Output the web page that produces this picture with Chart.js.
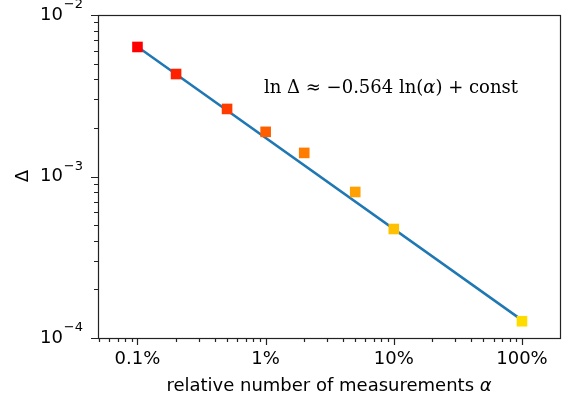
<!DOCTYPE html>
<html><head><meta charset="utf-8">
<script src="https://cdn.jsdelivr.net/npm/chart.js@4"></script>
<style>html,body{margin:0;padding:0;background:#fff}#w{width:571px;height:405px}</style>
</head><body><div id="w"><canvas id="c"></canvas></div>
<script>
const alphaPct = [0.1, 0.2, 0.5, 1, 2, 5, 10, 100];
const delta = [6.34e-3, 4.31e-3, 2.62e-3, 1.89e-3, 1.40e-3, 8.02e-4, 4.73e-4, 1.27e-4];
const colors = ['#ff0000','#ff2000','#ff3c00','#ff5e00','#ff7c00','#ffa000','#ffc000','#ffdc00'];
const fitX = [0.1, 100];
const fitY = [6.35e-3, 1.29e-4];
const xMajor = [0.1, 1, 10, 100];
const yMajor = [1e-4, 1e-3, 1e-2];
const yExp = ['−4','−3','−2'];

const frame = {
  id:'frame',
  afterDraw(ch){
    const c=ch.ctx, a=ch.chartArea, xs=ch.scales.x, ys=ch.scales.y;
    c.save(); c.strokeStyle='#222'; c.lineWidth=1.2;
    c.strokeRect(a.left+0.5,a.top+0.5,a.right-a.left,a.bottom-a.top);
    c.beginPath();
    for(let d=-2; d<=2; d++) for(let m=1;m<10;m++){
      const v=m*Math.pow(10,d); if(v<xs.min||v>xs.max) continue;
      const px=Math.round(xs.getPixelForValue(v))+0.5, L=m===1?7:4;
      c.moveTo(px,a.bottom); c.lineTo(px,a.bottom+L);
    }
    for(let d=-4; d<=-2; d++) for(let m=1;m<10;m++){
      const v=m*Math.pow(10,d); if(v<ys.min*0.999||v>ys.max*1.001) continue;
      const py=Math.round(ys.getPixelForValue(v))+0.5, L=m===1?7:4;
      c.moveTo(a.left,py); c.lineTo(a.left-L,py);
    }
    c.stroke();
    c.fillStyle='#000'; c.font='18px "DejaVu Sans"'; c.textBaseline='top'; c.textAlign='center';
    xMajor.forEach(v=>c.fillText(v+'%', xs.getPixelForValue(v), a.bottom+12));
    c.textBaseline='middle';
    yMajor.forEach((v,i)=>{
      const py=ys.getPixelForValue(v);
      c.textAlign='right'; c.font='13px "DejaVu Sans"';
      c.fillText(yExp[i], 83, py-10);
      const ew=c.measureText(yExp[i]).width;
      c.font='18px "DejaVu Sans"';
      c.fillText('10', 83-ew-1, py);
    });
    c.font='18px "DejaVu Sans"';
    const t1='relative number of measurements ';
    const tw=c.measureText(t1).width; c.font='italic 18px "DejaVu Sans"';
    const aw=c.measureText('α').width;
    const sx=(a.left+a.right)/2-(tw+aw)/2;
    c.textAlign='left'; c.font='18px "DejaVu Sans"'; c.fillText(t1,sx,386);
    c.font='italic 18px "DejaVu Sans"'; c.fillText('α',sx+tw,386);
    c.font='18px "DejaVu Sans"';
    c.save(); c.translate(23,176); c.rotate(-Math.PI/2); c.textAlign='center'; c.fillText('Δ',0,0); c.restore();
    c.textAlign='left';
    const parts=[['ln Δ ≈ −0.564 ln(',''],['α','italic '],[') + const','']];
    let size=18, total=0;
    parts.forEach(([s,f])=>{c.font=f+size+'px "DejaVu Serif"';total+=c.measureText(s).width;});
    size=size*254/total;
    let x=264;
    parts.forEach(([s,f])=>{c.font=f+size.toFixed(2)+'px "DejaVu Serif"';c.fillText(s,x,88);x+=c.measureText(s).width;});
    c.restore();
  }
};

new Chart(document.getElementById('c'),{
  type:'scatter',
  data:{datasets:[
    {type:'line',data:fitX.map((x,i)=>({x,y:fitY[i]})),borderColor:'#1f77b4',borderWidth:2.5,pointRadius:0,order:2},
    {data:alphaPct.map((x,i)=>({x,y:delta[i]})),pointStyle:'rect',pointRadius:7.5,backgroundColor:colors,borderColor:colors,borderWidth:0,order:1}
  ]},
  plugins:[frame],
  options:{responsive:true,maintainAspectRatio:false,animation:false,
    layout:{padding:{left:98,top:15,right:11,bottom:67}},
    plugins:{legend:{display:false},tooltip:{enabled:false}},
    scales:{
      x:{type:'logarithmic',min:0.0492,max:198,grid:{display:false},border:{display:false},ticks:{display:false},afterFit(s){s.height=0}},
      y:{type:'logarithmic',min:1e-4,max:1e-2,grid:{display:false},border:{display:false},ticks:{display:false},afterFit(s){s.width=0}}
    }}
});
</script></body></html>
